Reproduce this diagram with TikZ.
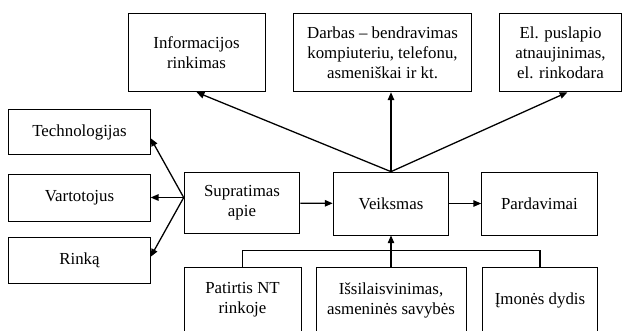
\documentclass[tikz,border=0pt]{standalone}
\usepackage{fontspec}
\setmainfont{Liberation Serif}
\usetikzlibrary{arrows.meta, positioning, calc}

\begin{document}
\begin{tikzpicture}[
    x=0.7pt, y=-0.7pt,
    every node/.style={font=\fontsize{11.8}{14}\selectfont},
    box/.style={rectangle, draw, line width=0.6pt, align=center, inner sep=0pt},
    arr/.style={-{Triangle[length=5.5pt, width=4.5pt]}, line width=0.9pt},
    ln/.style={line width=0.9pt}
]
    \path[use as bounding box, clip] (0,0) rectangle (624,330);

    \node[box, minimum width=96pt, minimum height=55pt]  (info) at (196.5,52.5) {Informacijos\\rinkimas};
    \node[box, minimum width=125pt, minimum height=55pt] (darb) at (382.5,52.5) {Darbas -- bendravimas\\kompiuteriu, telefonu,\\asmeniškai ir kt.};
    \node[box, minimum width=85pt, minimum height=55pt]  (elps) at (560.5,52.5) {El. puslapio\\atnaujinimas,\\el. rinkodara};

    \node[box, minimum width=99pt, minimum height=32pt] (tech) at (79.5,132) {Technologijas};
    \node[box, minimum width=99pt, minimum height=33pt] (vart) at (79.5,197.5) {Vartotojus};
    \node[box, minimum width=99pt, minimum height=32pt] (rink) at (79.5,260.5) {Rinką};

    \node[box, minimum width=81pt, minimum height=43pt] (supr) at (242,203) {Supratimas\\apie};
    \node[box, minimum width=81pt, minimum height=44pt] (veik) at (391,203.5) {Veiksmas};
    \node[box, minimum width=81pt, minimum height=44pt] (pard) at (539.5,203.5) {Pardavimai};

    \node[box, minimum width=82pt, minimum height=45pt]  (pati) at (242.5,300) {Patirtis NT\\rinkoje};
    \node[box, minimum width=105pt, minimum height=45pt] (issi) at (391,300) {Išsilaisvinimas,\\asmeninės savybės};
    \node[box, minimum width=81pt, minimum height=45pt]  (imon) at (540,300) {Įmonės dydis};

    \coordinate (sl) at (supr.west |- vart.east);
    \draw[arr] (sl) -- (tech.355);
    \draw[arr] (sl) -- (vart.east);
    \draw[arr] (sl) -- (rink.3);

    \draw[arr] (supr) -- (veik);
    \draw[arr] (veik) -- (pard);

    \draw[arr] (veik.north) -- (info.south);
    \draw[arr] (veik.north) -- (veik.north |- darb.south);
    \draw[arr] (veik.north) -- (elps.280);

    \draw[ln] (pati.north) -- ++(0,-17) -| (imon.north);
    \draw[arr] (issi.north) -- (veik.south);
\end{tikzpicture}
\end{document}
